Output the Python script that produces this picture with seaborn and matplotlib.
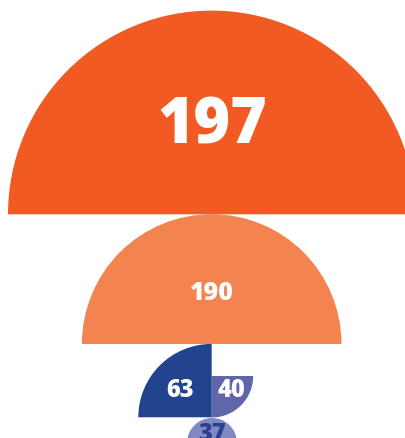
import matplotlib
matplotlib.use("Agg")
import matplotlib.pyplot as plt
from matplotlib.patches import Wedge
import seaborn as sns

# ---- data ----
labels = ["197", "190", "63", "40", "37"]
values = [197, 190, 63, 40, 37]

# ---- layout (pixel-like coordinates, y measured from top) ----
centers_x = [211.7, 211.7, 211.7, 211.7, 212.0]
centers_y = [215.3, 345.0, 418.3, 377.0, 444.0]
radii = [203.7, 129.8, 73.4, 41.5, 25.0]
angles = [(0, 180), (0, 180), (90, 180), (270, 360), (0, 360)]
colors = ["#F15A22", "#F4844F", "#22448F", "#6066AA", "#8288C4"]
text_pos = [(212, 127), (211.5, 294), (180, 391), (232, 391), (212, 435)]
text_sizes = [45, 18, 17, 17, 17]
text_colors = ["white", "white", "white", "white", "#2A3F8F"]

W, H = 406, 439
sns.set_theme(style="white")
plt.rcParams["font.family"] = ["Open Sans", "DejaVu Sans"]

fig = plt.figure(figsize=(W / 100, H / 100), dpi=100)
ax = fig.add_axes([0, 0, 1, 1])
ax.set_xlim(0, W)
ax.set_ylim(0, H)
ax.set_aspect("auto")
ax.axis("off")

for lab, v, cx, cy, r, (t1, t2), c, (tx, ty), fs, tc in zip(
        labels, values, centers_x, centers_y, radii, angles, colors,
        text_pos, text_sizes, text_colors):
    ax.add_patch(Wedge((cx, H - cy), r, t1, t2, facecolor=c, edgecolor="none"))
    ax.text(tx, H - ty, lab, ha="center", va="center", fontsize=fs,
            fontweight="heavy", color=tc)

fig.savefig("out.png", dpi=100)
